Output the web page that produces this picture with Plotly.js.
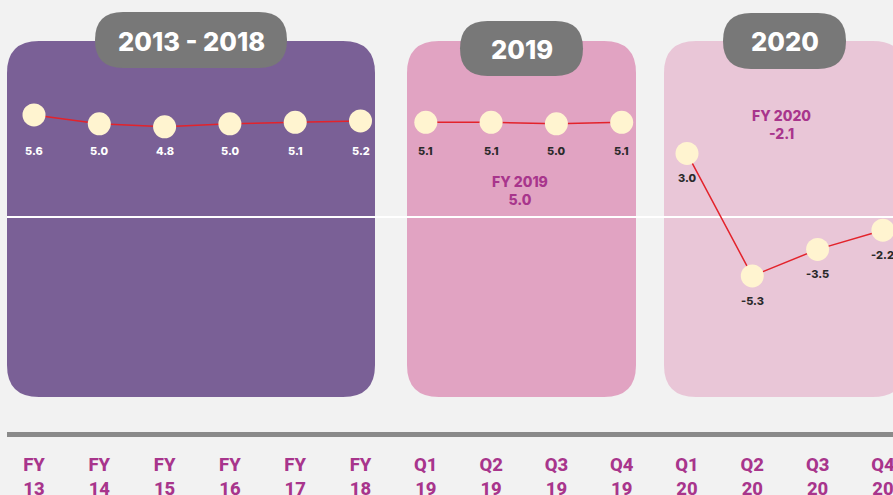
<!DOCTYPE html>
<html>
<head>
<meta charset="utf-8">
<script src="https://cdn.plot.ly/plotly-3.0.1.min.js"></script>
<style>html,body{margin:0;padding:0;background:#f2f2f2;}#chart{width:893px;height:495px;}</style>
</head>
<body>
<div id="chart"></div>
<script>
// ---- data ----
const periods = ['FY 13','FY 14','FY 15','FY 16','FY 17','FY 18','Q1 19','Q2 19','Q3 19','Q4 19','Q1 20','Q2 20','Q3 20','Q4 20'];
const values  = [5.6, 5.0, 4.8, 5.0, 5.1, 5.2, 5.1, 5.1, 5.0, 5.1, 3.0, -5.3, -3.5, -2.2];
const groupTitles = ['2013 - 2018', '2019', '2020'];
const groupOf = [0,0,0,0,0,0,1,1,1,1,2,2,2,2];
const summaryLabels = ['FY 2019', 'FY 2020'];
const summaryValues = [5.0, -2.1];

// ---- geometry helpers (pixel -> paper) ----
const W = 893, PH = 435; // plot area height (bottom margin 60)
const px = x => x / W;
const py = y => 1 - y / PH;
function roundRect(x0, y0, x1, y1, r) {
  const p = (x, y) => px(x).toFixed(5) + ',' + py(y).toFixed(5);
  return 'M' + p(x0 + r, y0) + ' L' + p(x1 - r, y0) + ' Q' + p(x1, y0) + ' ' + p(x1, y0 + r) +
    ' L' + p(x1, y1 - r) + ' Q' + p(x1, y1) + ' ' + p(x1 - r, y1) +
    ' L' + p(x0 + r, y1) + ' Q' + p(x0, y1) + ' ' + p(x0, y1 - r) +
    ' L' + p(x0, y0 + r) + ' Q' + p(x0, y0) + ' ' + p(x0 + r, y0) + ' Z';
}

const panelColors = ['#7a6096', '#e1a3c2', '#e9c6d7'];
const panels = [[7, 41, 375, 397], [407, 41, 636, 397], [664, 41, 905, 397]];
const pills = [[95, 12, 287, 68], [460, 21, 583, 76], [723, 13, 846, 69]];

const shapes = [];
panels.forEach((b, i) => shapes.push({type: 'path', xref: 'paper', yref: 'paper', layer: 'below',
  path: roundRect(b[0], b[1], b[2], b[3], 32), fillcolor: panelColors[i], line: {width: 0}}));
shapes.push({type: 'line', xref: 'paper', yref: 'paper', layer: 'below',
  x0: px(7), x1: 1, y0: py(217), y1: py(217), line: {color: '#ffffff', width: 2}});
shapes.push({type: 'line', xref: 'paper', yref: 'paper', layer: 'below',
  x0: px(7), x1: 1, y0: py(434.5), y1: py(434.5), line: {color: '#8a8a8a', width: 5}});
pills.forEach(b => shapes.push({type: 'path', xref: 'paper', yref: 'paper', layer: 'above',
  path: roundRect(b[0], b[1], b[2], b[3], (b[3] - b[1]) / 2), fillcolor: '#787878', line: {width: 0}}));

const annotations = [];
pills.forEach((b, i) => annotations.push({xref: 'paper', yref: 'paper',
  x: px((b[0] + b[2]) / 2), y: py((b[1] + b[3]) / 2 + 1), text: groupTitles[i], showarrow: false,
  xanchor: 'center', yanchor: 'middle',
  font: {family: 'Inter, Open Sans, sans-serif', size: 25.5, color: '#ffffff', weight: 800}}));

values.forEach((v, i) => {
  const g = groupOf[i];
  const a = {x: i, text: v.toFixed(1), showarrow: false, xanchor: 'center', yanchor: 'middle',
    font: {family: 'Inter, Open Sans, sans-serif', size: 11, weight: 800, color: g === 0 ? '#ffffff' : '#2a2a2a'}};
  if (g < 2) { a.xref = 'x'; a.yref = 'paper'; a.y = py(151); }
  else { a.xref = 'x'; a.yref = 'y'; a.y = v; a.yshift = -25; }
  annotations.push(a);
});

const summaryPos = [[520, 190.5], [781, 124.5]];
summaryLabels.forEach((s, i) => annotations.push({xref: 'paper', yref: 'paper',
  x: px(summaryPos[i][0]), y: py(summaryPos[i][1]), text: s + '<br>' + summaryValues[i].toFixed(1),
  showarrow: false, xanchor: 'center', yanchor: 'middle',
  font: {family: 'Inter, Open Sans, sans-serif', size: 14, weight: 800, color: '#a8358c'}}));

const xIdx = periods.map((p, i) => i);
// one line trace per group so segments do not join across panels
const traces = groupTitles.map((t, g) => {
  const xs = [], ys = [];
  values.forEach((v, i) => { if (groupOf[i] === g) { xs.push(i); ys.push(v); } });
  return {
    x: xs, y: ys, type: 'scatter', mode: 'lines+markers', name: t,
    line: {color: '#e3232b', width: 1.5},
    marker: {size: 23, color: '#fff4d0', line: {width: 0}},
    hoverinfo: 'skip', cliponaxis: false
  };
});

const layout = {
  width: 893, height: 495,
  margin: {l: 0, r: 0, t: 0, b: 60},
  paper_bgcolor: '#f2f2f2', plot_bgcolor: '#f2f2f2',
  showlegend: false,
  xaxis: {range: [-34 / 65.3, (893 - 34) / 65.3], tickvals: xIdx,
    ticktext: periods.map(p => p.replace(' ', '<br>')),
    showgrid: false, zeroline: false, showline: false, ticks: '',
    tickfont: {family: 'Roboto, sans-serif', size: 18.5, color: '#a8358c', weight: 800},
    ticklabelstandoff: 16, ticklabeloverflow: 'allow', fixedrange: true},
  yaxis: {range: [-(435 - 197.7) / 14.77, 197.7 / 14.77], visible: false,
    showgrid: false, zeroline: false, fixedrange: true},
  shapes: shapes, annotations: annotations
};

Plotly.newPlot('chart', traces, layout, {displayModeBar: false, staticPlot: true});
</script>
</body>
</html>
